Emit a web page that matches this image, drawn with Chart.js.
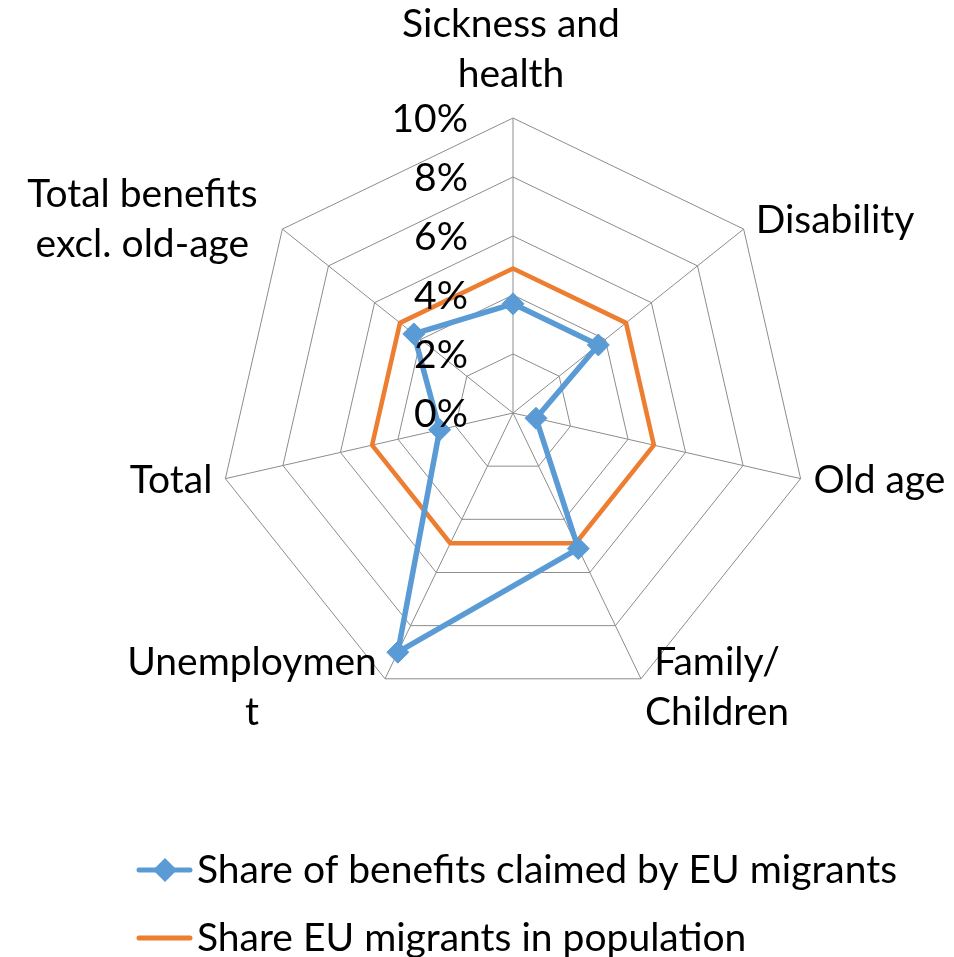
<!DOCTYPE html>
<html>
<head>
<meta charset="utf-8">
<script src="https://cdn.jsdelivr.net/npm/chart.js@4/dist/chart.umd.min.js"></script>
<style>
  body { margin: 0; background: #fff; }
</style>
</head>
<body>
<canvas id="radarchart" width="954" height="957"></canvas>
<script>
// Data (values in %)
const categories = [
    ['Sickness and', 'health'],
    ['Disability'],
    ['Old age'],
    ['Family/', 'Children'],
    ['Unemploymen', 't'],
    ['Total'],
    ['Total benefits', 'excl. old-age']
];
const seriesNames = ['Share of benefits claimed by EU migrants', 'Share EU migrants in population'];
const benefitsShare = [3.7, 3.7, 0.8, 5.1, 9.0, 2.55, 4.3];
const populationShare = [4.9, 4.9, 4.9, 4.9, 4.9, 4.9, 4.9];
const tickValues = [0, 2, 4, 6, 8, 10];
const tickLabels = ['0%', '2%', '4%', '6%', '8%', '10%'];

const blue = '#5B9BD5';
const orange = '#ED7D31';
const font = '39px Lato';

// where each category label sits relative to its outer vertex
const labelPlacement = [
    { align: 'center', dx: -2, dy: -81 },
    { align: 'left', dx: 12, dy: 4 },
    { align: 'left', dx: 13, dy: 14 },
    { align: 'center', dx: 76, dy: -4 },
    { align: 'center', dx: -133, dy: -4 },
    { align: 'right', dx: -13, dy: 14 },
    { align: 'center', dx: -140, dy: -22 }
];

// Draws tick labels, category labels and the legend like the Excel original
const excelText = {
    id: 'excelText',
    afterDraw(chart) {
        const ctx = chart.ctx;
        const scale = chart.scales.r;
        ctx.save();
        ctx.font = font;
        ctx.fillStyle = '#000';
        ctx.textBaseline = 'alphabetic';

        // tick labels, to the left of the vertical axis
        ctx.textAlign = 'right';
        for (let i = 0; i < tickValues.length; i++) {
            const y = scale.yCenter - scale.getDistanceFromCenterForValue(tickValues[i]);
            ctx.fillText(tickLabels[i], scale.xCenter - 45, y + 14);
        }

        // category labels
        for (let i = 0; i < categories.length; i++) {
            const p = scale.getPointPosition(i, scale.drawingArea);
            const pl = labelPlacement[i];
            ctx.textAlign = pl.align;
            categories[i].forEach((line, j) => {
                ctx.fillText(line, p.x + pl.dx, p.y + pl.dy + j * 50);
            });
        }

        // legend
        const rows = [870, 938];
        ctx.lineCap = 'round';
        ctx.lineWidth = 5;
        ctx.textAlign = 'left';
        chart.data.datasets.forEach((ds, i) => {
            const y = rows[i];
            ctx.strokeStyle = ds.borderColor;
            ctx.beginPath();
            ctx.moveTo(139, y);
            ctx.lineTo(190, y);
            ctx.stroke();
            if (ds.pointRadius > 0) {
                ctx.fillStyle = ds.borderColor;
                ctx.beginPath();
                ctx.moveTo(165, y - 12);
                ctx.lineTo(177, y);
                ctx.lineTo(165, y + 12);
                ctx.lineTo(153, y);
                ctx.closePath();
                ctx.fill();
            }
            ctx.fillStyle = '#000';
            ctx.fillText(ds.label, 197, y + 13);
        });
        ctx.restore();
    }
};

const radar = new Chart(document.getElementById('radarchart'), {
    type: 'radar',
    data: {
        labels: categories,
        datasets: [
            {
                label: seriesNames[0],
                data: benefitsShare,
                borderColor: blue,
                backgroundColor: blue,
                borderWidth: 5.5,
                borderJoinStyle: 'round',
                pointStyle: 'rectRot',
                pointRadius: 11,
                pointBorderWidth: 1,
                pointBackgroundColor: blue,
                pointBorderColor: blue,
                fill: false
            },
            {
                label: seriesNames[1],
                data: populationShare,
                borderColor: orange,
                backgroundColor: orange,
                borderWidth: 4.5,
                borderJoinStyle: 'round',
                pointRadius: 0,
                fill: false
            }
        ]
    },
    options: {
        responsive: false,
        animation: false,
        layout: { padding: { left: 218, right: 146, top: 118, bottom: 249 } },
        plugins: {
            legend: { display: false },
            tooltip: { enabled: false }
        },
        scales: {
            r: {
                min: 0,
                max: 10,
                ticks: { display: false, stepSize: 2 },
                grid: { color: '#8c8c8c', lineWidth: 1 },
                angleLines: { color: '#8c8c8c', lineWidth: 1 },
                pointLabels: { display: false }
            }
        }
    },
    plugins: [excelText]
});
</script>
</body>
</html>
